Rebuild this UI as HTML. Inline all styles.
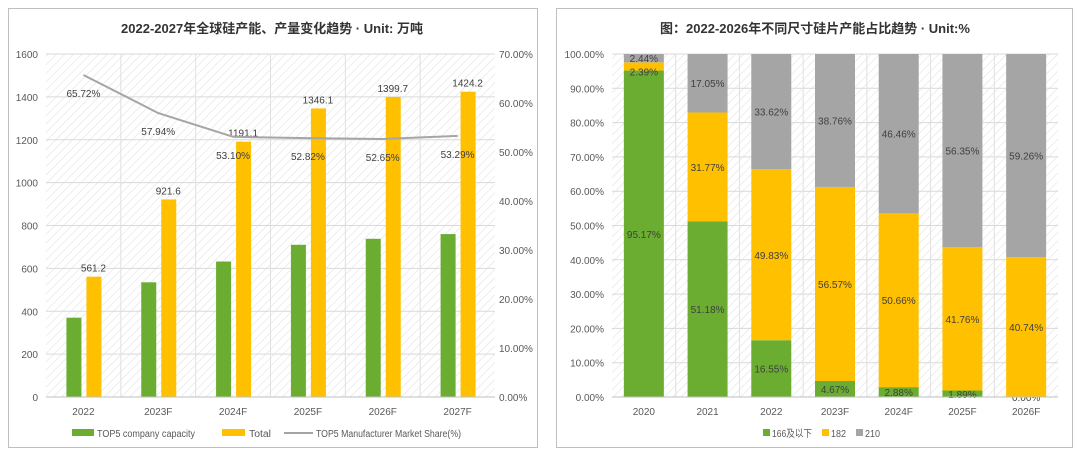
<!DOCTYPE html>
<html><head><meta charset="utf-8"><style>
body{margin:0;background:#fff;width:1080px;height:455px;overflow:hidden;font-family:"Liberation Sans","Noto Sans CJK SC",sans-serif}
svg{position:absolute;left:0;top:0}
</style></head><body>
<svg width="1080" height="455">
<defs><pattern id="hatch" width="6" height="6" patternUnits="userSpaceOnUse" patternTransform="rotate(45)"><rect width="6" height="6" fill="#fff"/><line x1="0" y1="0" x2="0" y2="6" stroke="#e2e2e2" stroke-width="1.2"/></pattern></defs>
<rect x="8.5" y="8.5" width="529" height="439" fill="#fff" stroke="#bfbfbf"/>
<rect x="556.5" y="8.5" width="516" height="439" fill="#fff" stroke="#bfbfbf"/>
<text x="272" y="33" text-anchor="middle" font-size="13" font-weight="bold" fill="#333">2022-2027年全球硅产能、产量变化趋势 · Unit: 万吨</text>
<text x="815" y="33" text-anchor="middle" font-size="13" font-weight="bold" fill="#333">图：2022-2026年不同尺寸硅片产能占比趋势 · Unit:%</text>
<g id="L"></g><g id="R"></g>
</svg>
<script>
const lCats=["2022","2023F","2024F","2025F","2026F","2027F"];
const lGreen=[370,535,632,710,738,760];
const lTotal=[561.2,921.6,1191.1,1346.1,1399.7,1424.2];
const lShare=[65.72,57.94,53.10,52.82,52.65,53.29];
const lTicks=[0,200,400,600,800,1000,1200,1400,1600];
const rTicks=[0,10,20,30,40,50,60,70];
const rCats=["2020","2021","2022","2023F","2024F","2025F","2026F"];
const s166=[95.17,51.18,16.55,4.67,2.88,1.89,0.00];
const s182=[2.39,31.77,49.83,56.57,50.66,41.76,40.74];
const s210=[2.44,17.05,33.62,38.76,46.46,56.35,59.26];
const pTicks=[0,10,20,30,40,50,60,70,80,90,100];
const NS="http://www.w3.org/2000/svg";
function mk(p,t,a,txt){const e=document.createElementNS(NS,t);for(const k in a)e.setAttribute(k,a[k]);if(txt!==undefined)e.textContent=txt;p.appendChild(e);return e;}
const G1=document.getElementById('L'),G2=document.getElementById('R');
const lx0=46,lx1=495,ly0=397,ly1=54;
const ly=v=>ly0-v/1600*(ly0-ly1), ly2=v=>ly0-v/70*(ly0-ly1);
const lbw=(lx1-lx0)/lCats.length, lcx=i=>lx0+lbw*(i+0.5);
let e=mk(G1,'rect',{x:lx0,y:ly1,width:lx1-lx0,height:ly0-ly1,fill:'url(#hatch)'});

lTicks.forEach(t=>{mk(G1,'line',{x1:lx0,x2:lx1,y1:ly(t),y2:ly(t),stroke:'#d9d9d9'});
e=mk(G1,'text',{x:lx0-8,y:ly(t)+4,'text-anchor':'end','font-size':10,fill:'#595959'},t);
});
rTicks.forEach(t=>{e=mk(G1,'text',{x:lx1+4,y:ly2(t)+4,'font-size':10,fill:'#595959'},t.toFixed(2)+'%');
});
for(let i=1;i<lCats.length;i++)mk(G1,'line',{x1:lx0+lbw*i,x2:lx0+lbw*i,y1:ly1,y2:ly0,stroke:'#e0e0e0'});
lCats.forEach((c,i)=>{const cx=lcx(i);
e=mk(G1,'rect',{x:cx-17,y:ly(lGreen[i]),width:15,height:ly0-ly(lGreen[i]),fill:'#6aad31'});

e=mk(G1,'rect',{x:cx+3,y:ly(lTotal[i]),width:15,height:ly0-ly(lTotal[i]),fill:'#ffc000'});

e=mk(G1,'text',{x:cx+10,y:ly(lTotal[i])-5,'text-anchor':'middle','font-size':10,fill:'#404040'},lTotal[i].toFixed(1));

e=mk(G1,'text',{x:cx,y:ly0+18,'text-anchor':'middle','font-size':10,fill:'#595959'},c);

e=mk(G1,'text',{x:cx,y:ly2(lShare[i])+22,'text-anchor':'middle','font-size':10,fill:'#404040'},lShare[i].toFixed(2)+'%');
});
mk(G1,'line',{x1:lx0,x2:lx1,y1:ly0,y2:ly0,stroke:'#bfbfbf'});
e=mk(G1,'polyline',{points:lShare.map((v,i)=>lcx(i)+','+ly2(v)).join(' '),fill:'none',stroke:'#a5a5a5','stroke-width':2});

e=mk(G1,'rect',{x:72,y:429,width:22,height:7,fill:'#6aad31'});
e=mk(G1,'text',{x:97,y:437,'font-size':10,fill:'#595959',textLength:98,lengthAdjust:'spacingAndGlyphs'},'TOP5 company capacity');
e=mk(G1,'rect',{x:222,y:429,width:23,height:7,fill:'#ffc000'});
e=mk(G1,'text',{x:249,y:437,'font-size':10,fill:'#595959',textLength:22,lengthAdjust:'spacingAndGlyphs'},'Total');
mk(G1,'line',{x1:284,x2:313,y1:433,y2:433,stroke:'#a5a5a5','stroke-width':2});
e=mk(G1,'text',{x:316,y:437,'font-size':10,fill:'#595959',textLength:145,lengthAdjust:'spacingAndGlyphs'},'TOP5 Manufacturer Market Share(%)');
const rx0=612,rx1=1058,ry0=397,ry1=54;
const ry=v=>ry0-v/100*(ry0-ry1);
const rbw=(rx1-rx0)/rCats.length, rcx=i=>rx0+rbw*(i+0.5);
e=mk(G2,'rect',{x:rx0,y:ry1,width:rx1-rx0,height:ry0-ry1,fill:'url(#hatch)'});

pTicks.forEach(t=>{mk(G2,'line',{x1:rx0,x2:rx1,y1:ry(t),y2:ry(t),stroke:'#d9d9d9'});
e=mk(G2,'text',{x:rx0-8,y:ry(t)+4,'text-anchor':'end','font-size':10,fill:'#595959'},t.toFixed(2)+'%');
});
for(let i=1;i<rCats.length;i++)mk(G2,'line',{x1:rx0+rbw*i,x2:rx0+rbw*i,y1:ry1,y2:ry0,stroke:'#e0e0e0'});
rCats.forEach((c,i)=>{const cx=rcx(i);let base=0;
[[s166,'#6aad31','166'],[s182,'#ffc000','182'],[s210,'#a5a5a5','210']].forEach(([arr,col,nm],k)=>{
const v=arr[i];const y0=ry(base),y1=ry(base+v);
e=mk(G2,'rect',{x:cx-20,y:y1,width:40,height:y0-y1,fill:col});

let ty=(y0+y1)/2+4;
if(i===0&&k===1)ty=y1+13;if(i===0&&k===2)ty=y1+8;
e=mk(G2,'text',{x:cx,y:ty,'text-anchor':'middle','font-size':10,fill:'#404040'},v.toFixed(2)+'%');

base+=v;});
e=mk(G2,'text',{x:cx,y:ry0+18,'text-anchor':'middle','font-size':10,fill:'#595959'},c);
});
mk(G2,'line',{x1:rx0,x2:rx1,y1:ry0,y2:ry0,stroke:'#bfbfbf'});
[['#6aad31','166及以下',763,40],['#ffc000','182',822,15],['#a5a5a5','210',856,15]].forEach(([c,t,x,w])=>{
e=mk(G2,'rect',{x:x,y:429,width:7,height:7,fill:c});
e=mk(G2,'text',{x:x+9,y:437,'font-size':10,fill:'#595959',textLength:w,lengthAdjust:'spacingAndGlyphs'},t);});
</script>
</body></html>
